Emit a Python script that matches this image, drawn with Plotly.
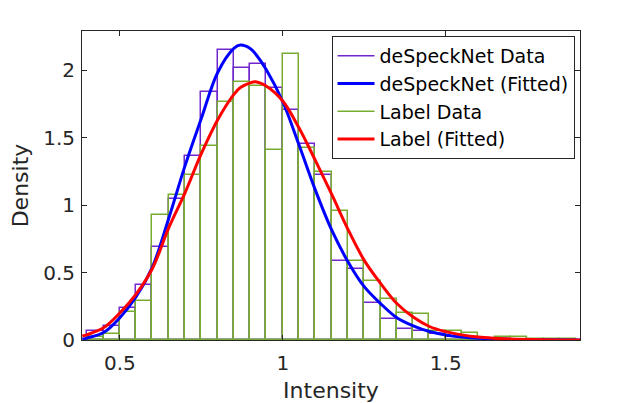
import plotly.graph_objects as go

# histogram bins (left edges, width 0.05)
bin_left = [0.40, 0.45, 0.50, 0.55, 0.60, 0.65, 0.70, 0.75, 0.80, 0.85,
            0.90, 0.95, 1.00, 1.05, 1.10, 1.15, 1.20, 1.25, 1.30, 1.35,
            1.40, 1.45, 1.50, 1.55, 1.60, 1.65, 1.70, 1.75, 1.80, 1.85]
despeck_density = [0.068, 0.102, 0.235, 0.407, 0.689, 1.044, 1.363, 1.840, 2.148, 2.015,
                   2.047, 1.870, 1.706, 1.455, 1.220, 0.586, 0.527, 0.277, 0.156, 0.082,
                   0.070, 0.045, 0.020, 0.012, 0.008, 0.005, 0.003, 0.002, 0.001, 0.001]
label_density = [0.025, 0.045, 0.205, 0.290, 0.924, 1.074, 1.220, 1.440, 1.765, 1.913,
                 1.884, 1.410, 2.117, 1.426, 1.247, 0.952, 0.586, 0.438, 0.306, 0.202,
                 0.195, 0.068, 0.068, 0.052, 0.008, 0.025, 0.025, 0.004, 0.011, 0.011]

# fitted pdf curves
fit_x = [0.385, 0.40, 0.45, 0.50, 0.55, 0.60, 0.65, 0.70, 0.75, 0.80, 0.85, 0.87,
         0.90, 0.916, 0.95, 1.00, 1.05, 1.10, 1.15, 1.20, 1.25, 1.30, 1.35, 1.40,
         1.45, 1.50, 1.55, 1.60, 1.65, 1.70, 1.80, 1.912]
despeck_fit = [0.005, 0.015, 0.055, 0.165, 0.320, 0.540, 0.900, 1.290, 1.640, 1.980, 2.160, 2.185,
               2.160, 2.120, 2.000, 1.765, 1.444, 1.110, 0.815, 0.580, 0.395, 0.270, 0.165, 0.105,
               0.063, 0.037, 0.022, 0.013, 0.008, 0.004, 0.001, 0.000]
label_fit = [0.030, 0.040, 0.090, 0.200, 0.340, 0.530, 0.830, 1.090, 1.380, 1.630, 1.820, 1.870,
             1.905, 1.913, 1.880, 1.770, 1.570, 1.330, 1.080, 0.820, 0.590, 0.420, 0.270, 0.170,
             0.100, 0.062, 0.038, 0.022, 0.013, 0.007, 0.002, 0.000]

PURPLE = 'rgb(114,38,205)'
GREEN = 'rgb(119,172,48)'
FONT = 'DejaVu Sans'
AXIS_COLOR = '#262626'


def hist_outline(y, color):
    """ Unfilled histogram bars like MATLAB's histogram(..., 'FaceColor','none') """
    return go.Bar(x=bin_left, y=y, width=0.05, offset=0,
                  marker=dict(color='rgba(0,0,0,0)', line=dict(color=color, width=1.5)),
                  showlegend=False, hoverinfo='skip')


def legend_line(name, color, width):
    return go.Scatter(x=[None], y=[None], mode='lines', name=name,
                      line=dict(color=color, width=width))


fig = go.Figure()
fig.add_trace(hist_outline(despeck_density, PURPLE))
fig.add_trace(hist_outline(label_density, GREEN))

fig.add_trace(legend_line('deSpeckNet Data', PURPLE, 1.5))
fig.add_trace(go.Scatter(x=fit_x, y=despeck_fit, mode='lines', name='deSpeckNet (Fitted)',
                         line=dict(color='#0000FF', width=3, shape='spline')))
fig.add_trace(legend_line('Label Data', GREEN, 1.5))
fig.add_trace(go.Scatter(x=fit_x, y=label_fit, mode='lines', name='Label (Fitted)',
                         line=dict(color='#FF0000', width=3, shape='spline')))

axis_style = dict(showline=True, linecolor=AXIS_COLOR, linewidth=1, mirror='ticks',
                  ticks='inside', ticklen=5, tickcolor=AXIS_COLOR, showgrid=False,
                  zeroline=False, automargin=False,
                  tickfont=dict(family=FONT, size=20, color=AXIS_COLOR))

# page body adds an 8px offset, so the figure is drawn 8px smaller
fig.update_layout(
    width=635, height=395,
    margin=dict(l=74, r=63, t=23, b=63),
    paper_bgcolor='white', plot_bgcolor='white',
    barmode='overlay', bargap=0,
    font=dict(family=FONT, size=20, color=AXIS_COLOR),
    legend=dict(x=0.989, y=0.984, xanchor='right', yanchor='top', itemwidth=37,
                traceorder='normal', tracegroupgap=0,
                bgcolor='white', bordercolor=AXIS_COLOR, borderwidth=1,
                font=dict(family=FONT, size=19, color='black')),
)
fig.update_xaxes(range=[0.384, 1.912], tickvals=[0.5, 1, 1.5], ticktext=['0.5', '1', '1.5'],
                 ticklabelstandoff=5,
                 title=dict(text='Intensity', font=dict(family=FONT, size=22, color=AXIS_COLOR), standoff=8),
                 **axis_style)
fig.update_yaxes(range=[0, 2.289], tickvals=[0, 0.5, 1, 1.5, 2], ticktext=['0', '0.5', '1', '1.5', '2'],
                 ticklabelstandoff=2,
                 title=dict(text='Density', font=dict(family=FONT, size=22, color=AXIS_COLOR), standoff=8),
                 **axis_style)

fig.write_html("out.html")
